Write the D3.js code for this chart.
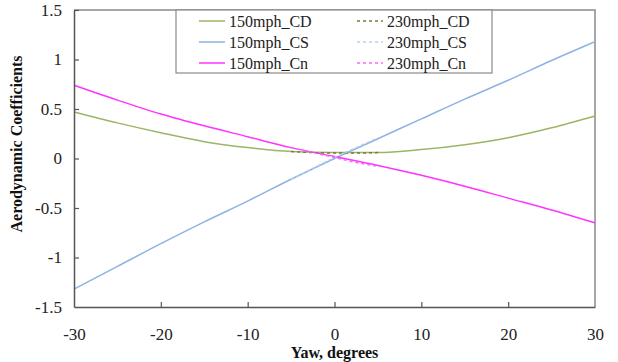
<!DOCTYPE html>
<html lang="en">
<head>
    <meta charset="UTF-8">
    <title>Aerodynamic Coefficients vs Yaw</title>
    <style>
        body { margin: 0; background: #ffffff; }
        svg { display: block; font-family: "Liberation Serif", "Times New Roman", serif; }
        .tick text { font-family: "Liberation Serif", "Times New Roman", serif; font-size: 17px; fill: #222; }
        .axis-title { font-family: "Liberation Serif", "Times New Roman", serif; font-size: 16px; font-weight: bold; fill: #111; }
        .legend text { font-family: "Liberation Serif", "Times New Roman", serif; font-size: 16px; fill: #222; }
    </style>
</head>
<body>
    <div id="chart"></div>

    <script src="https://d3js.org/d3.v7.min.js"></script>

    <script>
        // yaw angles (degrees)
        var yaw150 = [-30, -25, -20, -15, -10, -5, 0, 5, 10, 15, 20, 25, 30];
        var yaw230 = [-5, -2.5, 0, 2.5, 5];

        // 150 mph series
        var cd150 = [0.47, 0.36, 0.26, 0.17, 0.11, 0.07, 0.06, 0.06, 0.09, 0.14, 0.21, 0.31, 0.43];
        var cs150 = [-1.32, -1.09, -0.86, -0.64, -0.43, -0.21, 0.00, 0.20, 0.40, 0.60, 0.79, 0.99, 1.18];
        var cn150 = [0.74, 0.59, 0.45, 0.33, 0.22, 0.11, 0.02, -0.07, -0.17, -0.28, -0.40, -0.52, -0.65];

        // 230 mph series (only tested at small yaw, sits on top of the 150 mph ones)
        var cd230 = [0.07, 0.06, 0.055, 0.055, 0.06];
        var cs230 = [-0.21, -0.10, 0.01, 0.11, 0.21];
        var cn230 = [0.11, 0.06, 0.01, -0.04, -0.08];

        var xTicks = [-30, -20, -10, 0, 10, 20, 30];
        var yTicks = [-1.5, -1, -0.5, 0, 0.5, 1, 1.5];

        var series = [
            { name: "150mph_CD", xs: yaw150, values: cd150, color: "#9bb565", dash: null },
            { name: "150mph_CS", xs: yaw150, values: cs150, color: "#8db3e2", dash: null },
            { name: "150mph_Cn", xs: yaw150, values: cn150, color: "#ff33ff", dash: null },
            { name: "230mph_CD", xs: yaw230, values: cd230, color: "#6f7f3c", dash: "3,3" },
            { name: "230mph_CS", xs: yaw230, values: cs230, color: "#b5cff0", dash: "3,3" },
            { name: "230mph_Cn", xs: yaw230, values: cn230, color: "#ff66ff", dash: "3,3" }
        ];

        var width = 618, height = 362;
        var margin = { top: 10, right: 23, bottom: 55, left: 74 };
        var plotW = width - margin.left - margin.right;
        var plotH = height - margin.top - margin.bottom;

        var svg = d3.select("#chart").append("svg")
            .attr("width", width)
            .attr("height", height);

        var g = svg.append("g")
            .attr("transform", "translate(" + margin.left + "," + margin.top + ")");

        var x = d3.scaleLinear().domain([-30, 30]).range([0, plotW]);
        var y = d3.scaleLinear().domain([-1.5, 1.5]).range([plotH, 0]);

        // frame (top and right)
        g.append("path")
            .attr("d", "M0,0H" + plotW + "V" + plotH)
            .attr("fill", "none")
            .attr("stroke", "#8a8a8a")
            .attr("stroke-width", 1.5);

        // lines
        g.selectAll(".series")
            .data(series)
            .enter()
            .append("path")
            .attr("class", "series")
            .attr("d", function(s) {
                return d3.line()
                    .x(function(d, i) { return x(s.xs[i]); })
                    .y(function(d) { return y(d); })
                    .curve(d3.curveMonotoneX)(s.values);
            })
            .attr("fill", "none")
            .attr("stroke", function(d) { return d.color; })
            .attr("stroke-width", 1.5)
            .attr("stroke-dasharray", function(d) { return d.dash; });

        // axes, ticks pointing inward
        var xAxis = g.append("g")
            .attr("transform", "translate(0," + plotH + ")")
            .call(d3.axisBottom(x).tickValues(xTicks).tickSizeInner(-5).tickSizeOuter(0).tickPadding(21)
                .tickFormat(function(d) { return String(d); }));

        var yAxis = g.append("g")
            .call(d3.axisLeft(y).tickValues(yTicks).tickSizeInner(-5).tickSizeOuter(0).tickPadding(12)
                .tickFormat(function(d) { return String(d); }));

        [xAxis, yAxis].forEach(function(a) {
            a.attr("font-family", null).attr("font-size", null);
            a.select(".domain").attr("stroke", "#555").attr("stroke-width", 1.5);
            a.selectAll(".tick line").attr("stroke", "#555").attr("stroke-width", 1.2);
            a.selectAll(".tick text").attr("fill", null);
        });
        // first/last x ticks sit on the frame
        xAxis.selectAll(".tick line").filter(function(d) { return d === -30 || d === 30; }).remove();
        yAxis.selectAll(".tick line").filter(function(d) { return d === -1.5; }).remove();

        // axis titles
        svg.append("text")
            .attr("class", "axis-title")
            .attr("x", margin.left + plotW / 2)
            .attr("y", 358)
            .attr("text-anchor", "middle")
            .text("Yaw, degrees");

        svg.append("text")
            .attr("class", "axis-title")
            .attr("transform", "translate(22,144) rotate(-90)")
            .attr("text-anchor", "middle")
            .text("Aerodynamic Coefficients");

        // legend
        var legend = svg.append("g").attr("class", "legend");
        legend.append("rect")
            .attr("x", 176)
            .attr("y", margin.top)
            .attr("width", 316)
            .attr("height", 63)
            .attr("fill", "#fff")
            .attr("stroke", "#8a8a8a")
            .attr("stroke-width", 1.2);

        var items = legend.selectAll(".item")
            .data(series)
            .enter()
            .append("g")
            .attr("class", "item")
            .attr("transform", function(d, i) {
                var col = Math.floor(i / 3), row = i % 3;
                return "translate(" + (199 + col * 158) + "," + (21 + row * 21) + ")";
            });

        items.append("line")
            .attr("x1", 0).attr("x2", 26)
            .attr("y1", 0).attr("y2", 0)
            .attr("stroke", function(d) { return d.color; })
            .attr("stroke-width", 1.5)
            .attr("stroke-dasharray", function(d) { return d.dash; });

        items.append("text")
            .attr("x", 30)
            .attr("y", 5.5)
            .text(function(d) { return d.name; });
    </script>
</body>
</html>
